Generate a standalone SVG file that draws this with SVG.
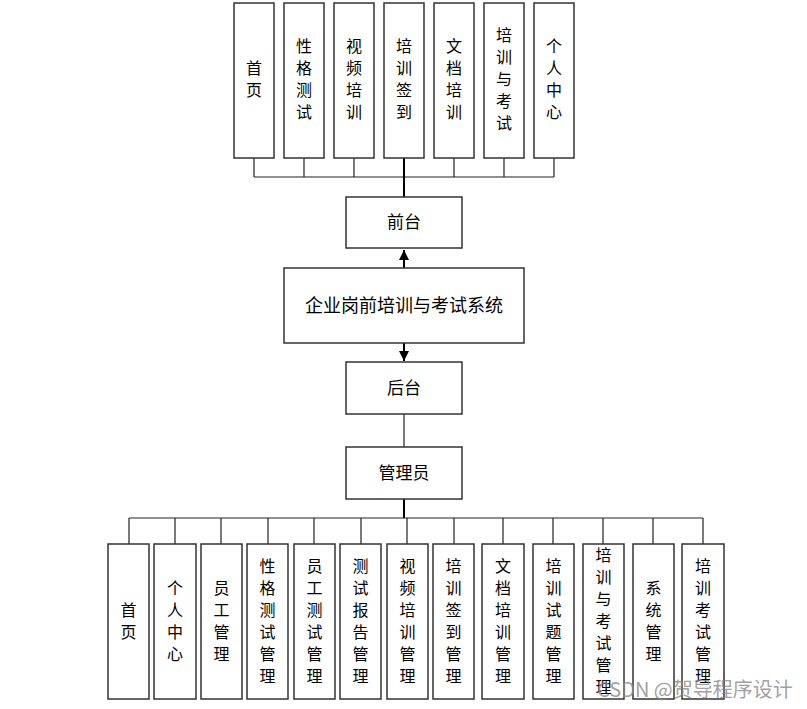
<svg xmlns="http://www.w3.org/2000/svg" width="807" height="709" viewBox="0 0 807 709">
<style>
.box{fill:#fff;stroke:#333;stroke-width:1.5}
.t{font-family:"Noto Sans CJK SC","Noto Sans",sans-serif;font-size:16px;fill:#000;text-anchor:middle}
.h{font-size:17px}
.ln{stroke:#222;stroke-width:1.2;fill:none}
.thk{stroke:#000;stroke-width:2;fill:none}
.wm{font-family:"Noto Sans CJK SC","Liberation Sans",sans-serif;font-size:20px;fill:#888;fill-opacity:0.8}
</style>
<defs>
<marker id="ah" viewBox="0 0 10 10" refX="10" refY="5" markerWidth="5" markerHeight="5" orient="auto-start-reverse" markerUnits="strokeWidth">
<path d="M0,0 L10,5 L0,10 z" fill="#000"/>
</marker>
</defs>
<g id="connectors">
<path class="ln" d="M254,158V177M304,158V177M354,158V177M454,158V177M504,158V177M554,158V177M254,177H554"/>
<path class="thk" d="M404,158V198"/>
<path class="thk" d="M404,268V250" marker-end="url(#ah)"/>
<path class="thk" d="M404,343V361" marker-end="url(#ah)"/>
<path class="ln" d="M404,414V447"/>
<path class="thk" d="M404,499V518"/>
<path class="ln" d="M129,518H703M129,518V544M175,518V544M221,518V544M268,518V544M314,518V544M361,518V544M407,518V544M454,518V544M503,518V544M553,518V544M603,518V544M653,518V544M703,518V544"/>
</g>
<g id="top-shouye"><rect class="box" x="234" y="3" width="40" height="155"/><text class="t"><tspan x="254" y="74">首</tspan><tspan x="254" y="96">页</tspan></text></g>
<g id="top-xingge"><rect class="box" x="284" y="3" width="40" height="155"/><text class="t"><tspan x="304" y="52">性</tspan><tspan x="304" y="74">格</tspan><tspan x="304" y="96">测</tspan><tspan x="304" y="118">试</tspan></text></g>
<g id="top-shipin"><rect class="box" x="334" y="3" width="40" height="155"/><text class="t"><tspan x="354" y="52">视</tspan><tspan x="354" y="74">频</tspan><tspan x="354" y="96">培</tspan><tspan x="354" y="118">训</tspan></text></g>
<g id="top-qiandao"><rect class="box" x="384" y="3" width="40" height="155"/><text class="t"><tspan x="404" y="52">培</tspan><tspan x="404" y="74">训</tspan><tspan x="404" y="96">签</tspan><tspan x="404" y="118">到</tspan></text></g>
<g id="top-wendang"><rect class="box" x="434" y="3" width="40" height="155"/><text class="t"><tspan x="454" y="52">文</tspan><tspan x="454" y="74">档</tspan><tspan x="454" y="96">培</tspan><tspan x="454" y="118">训</tspan></text></g>
<g id="top-kaoshi"><rect class="box" x="484" y="3" width="40" height="155"/><text class="t"><tspan x="504" y="41">培</tspan><tspan x="504" y="63">训</tspan><tspan x="504" y="85">与</tspan><tspan x="504" y="107">考</tspan><tspan x="504" y="129">试</tspan></text></g>
<g id="top-geren"><rect class="box" x="534" y="3" width="40" height="155"/><text class="t"><tspan x="554" y="52">个</tspan><tspan x="554" y="74">人</tspan><tspan x="554" y="96">中</tspan><tspan x="554" y="118">心</tspan></text></g>
<g id="qiantai"><rect class="box" x="346" y="197" width="116" height="51"/><text class="t h" x="404" y="228">前台</text></g>
<g id="system"><rect class="box" x="284" y="268" width="240" height="75"/><text class="t" x="404" y="312" style="font-size:18px">企业岗前培训与考试系统</text></g>
<g id="houtai"><rect class="box" x="346" y="362" width="116" height="52"/><text class="t h" x="404" y="394">后台</text></g>
<g id="admin"><rect class="box" x="346" y="447" width="116" height="52"/><text class="t h" x="404" y="479">管理员</text></g>
<g id="b1"><rect class="box" x="108" y="544" width="41" height="155"/><text class="t"><tspan x="128.5" y="616">首</tspan><tspan x="128.5" y="638">页</tspan></text></g>
<g id="b2"><rect class="box" x="154" y="544" width="42" height="155"/><text class="t"><tspan x="175" y="594">个</tspan><tspan x="175" y="616">人</tspan><tspan x="175" y="638">中</tspan><tspan x="175" y="660">心</tspan></text></g>
<g id="b3"><rect class="box" x="201" y="544" width="41" height="155"/><text class="t"><tspan x="221.5" y="594">员</tspan><tspan x="221.5" y="616">工</tspan><tspan x="221.5" y="638">管</tspan><tspan x="221.5" y="660">理</tspan></text></g>
<g id="b4"><rect class="box" x="247" y="544" width="41" height="155"/><text class="t"><tspan x="267.5" y="572">性</tspan><tspan x="267.5" y="594">格</tspan><tspan x="267.5" y="616">测</tspan><tspan x="267.5" y="638">试</tspan><tspan x="267.5" y="660">管</tspan><tspan x="267.5" y="682">理</tspan></text></g>
<g id="b5"><rect class="box" x="294" y="544" width="41" height="155"/><text class="t"><tspan x="314.5" y="572">员</tspan><tspan x="314.5" y="594">工</tspan><tspan x="314.5" y="616">测</tspan><tspan x="314.5" y="638">试</tspan><tspan x="314.5" y="660">管</tspan><tspan x="314.5" y="682">理</tspan></text></g>
<g id="b6"><rect class="box" x="340" y="544" width="41" height="155"/><text class="t"><tspan x="360.5" y="572">测</tspan><tspan x="360.5" y="594">试</tspan><tspan x="360.5" y="616">报</tspan><tspan x="360.5" y="638">告</tspan><tspan x="360.5" y="660">管</tspan><tspan x="360.5" y="682">理</tspan></text></g>
<g id="b7"><rect class="box" x="387" y="544" width="41" height="155"/><text class="t"><tspan x="407.5" y="572">视</tspan><tspan x="407.5" y="594">频</tspan><tspan x="407.5" y="616">培</tspan><tspan x="407.5" y="638">训</tspan><tspan x="407.5" y="660">管</tspan><tspan x="407.5" y="682">理</tspan></text></g>
<g id="b8"><rect class="box" x="433" y="544" width="41" height="155"/><text class="t"><tspan x="453.5" y="572">培</tspan><tspan x="453.5" y="594">训</tspan><tspan x="453.5" y="616">签</tspan><tspan x="453.5" y="638">到</tspan><tspan x="453.5" y="660">管</tspan><tspan x="453.5" y="682">理</tspan></text></g>
<g id="b9"><rect class="box" x="482" y="544" width="42" height="155"/><text class="t"><tspan x="503" y="572">文</tspan><tspan x="503" y="594">档</tspan><tspan x="503" y="616">培</tspan><tspan x="503" y="638">训</tspan><tspan x="503" y="660">管</tspan><tspan x="503" y="682">理</tspan></text></g>
<g id="b10"><rect class="box" x="533" y="544" width="41" height="155"/><text class="t"><tspan x="553.5" y="572">培</tspan><tspan x="553.5" y="594">训</tspan><tspan x="553.5" y="616">试</tspan><tspan x="553.5" y="638">题</tspan><tspan x="553.5" y="660">管</tspan><tspan x="553.5" y="682">理</tspan></text></g>
<g id="b11"><rect class="box" x="583" y="544" width="41" height="155"/><text class="t"><tspan x="603.5" y="561">培</tspan><tspan x="603.5" y="583">训</tspan><tspan x="603.5" y="605">与</tspan><tspan x="603.5" y="627">考</tspan><tspan x="603.5" y="649">试</tspan><tspan x="603.5" y="671">管</tspan><tspan x="603.5" y="693">理</tspan></text></g>
<g id="b12"><rect class="box" x="633" y="544" width="41" height="155"/><text class="t"><tspan x="653.5" y="594">系</tspan><tspan x="653.5" y="616">统</tspan><tspan x="653.5" y="638">管</tspan><tspan x="653.5" y="660">理</tspan></text></g>
<g id="b13"><rect class="box" x="682" y="544" width="42" height="155"/><text class="t"><tspan x="703" y="572">培</tspan><tspan x="703" y="594">训</tspan><tspan x="703" y="616">考</tspan><tspan x="703" y="638">试</tspan><tspan x="703" y="660">管</tspan><tspan x="703" y="682">理</tspan></text></g>
<text class="wm" x="597" y="697">CSDN @贺导程序设计</text>
</svg>
